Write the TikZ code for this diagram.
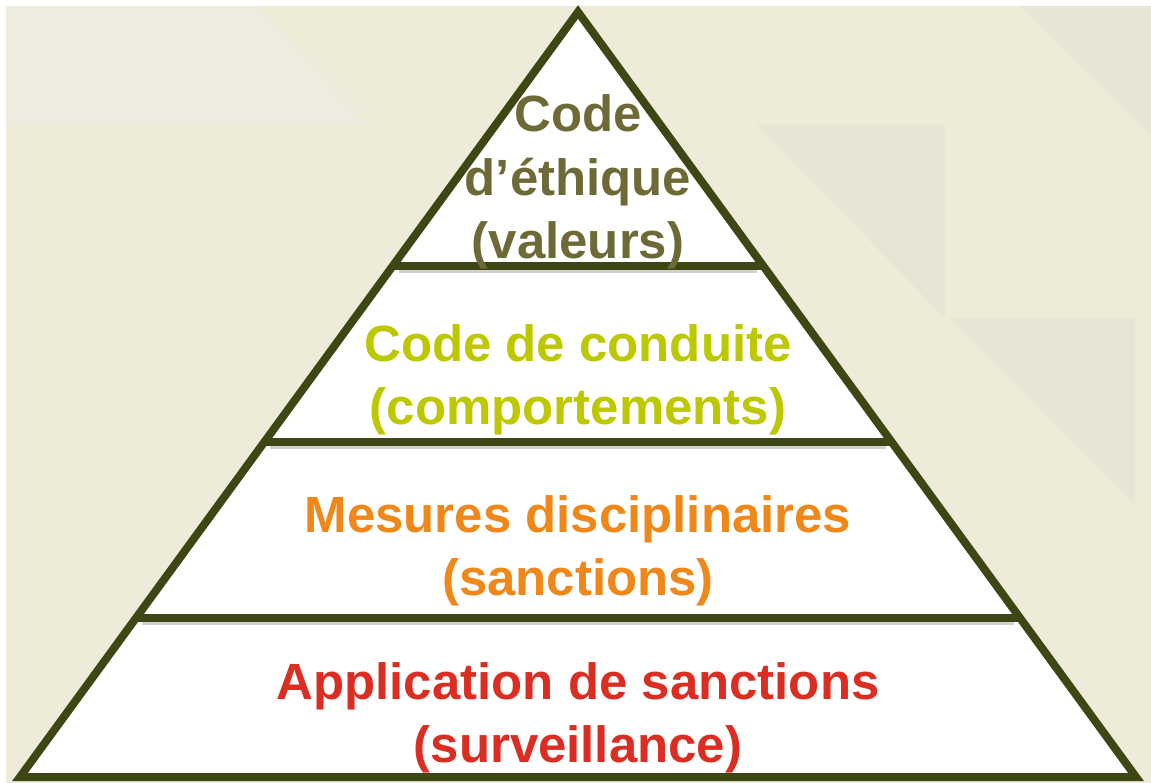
\documentclass[tikz,border=0pt]{standalone}
\usepackage{fontspec}
\setmainfont{Liberation Sans}
\usetikzlibrary{calc}
\definecolor{frame}{RGB}{62,70,20}
\definecolor{bgbeige}{RGB}{238,235,216}
\definecolor{bgshade}{RGB}{231,229,211}
\definecolor{bglight}{RGB}{238,236,222}
\definecolor{valcol}{RGB}{110,106,56}
\definecolor{condcol}{RGB}{190,200,0}
\definecolor{disccol}{RGB}{240,135,25}
\definecolor{survcol}{RGB}{220,45,35}
\tikzset{level text/.style={align=center,inner sep=0pt,font=\fontsize{29pt}{36.2pt}\selectfont\bfseries},
  pyramid line/.style={draw=frame,line width=4.55pt,line join=miter},
  level shadow/.style={draw=black!18,line width=2pt},}

\begin{document}
\begin{tikzpicture}[x=0.02cm,y=-0.02cm]
    % background
    \fill[white] (0,0) rectangle (1151,783);
    \useasboundingbox (0,0) rectangle (1151,783);
    \fill[bgbeige] (6,6) rectangle (1151,783);
    \fill[bglight] (6,6) -- (258,6) -- (370,125) -- (6,125) -- cycle;
    \fill[bgshade] (1020,6) -- (1151,6) -- (1151,135) -- cycle;
    \fill[bgshade] (757,125) -- (945,125) -- (945,318) -- cycle;
    \fill[bgshade] (950,318) -- (1135,318) -- (1135,505) -- cycle;

    % pyramid
    \coordinate (apex) at (578,12);
    \coordinate (bl) at (20,777);
    \coordinate (br) at (1136,777);
    \fill[white] (apex) -- (bl) -- (br) -- cycle;
    \foreach \t/\n in {0.332/1,0.562/2,0.792/3} {
      \coordinate (l\n) at ($(apex)!\t!(bl)$);
      \coordinate (r\n) at ($(apex)!\t!(br)$);
      \draw[level shadow] ($(l\n)+(6,5)$) -- ($(r\n)+(-6,5)$);
      \draw[pyramid line] (l\n) -- (r\n);
    }
    \draw[pyramid line] (apex) -- (bl) -- (br) -- cycle;

    \node[level text, text=valcol] (valeurs) at (578,182) {Code\\d’éthique\\(valeurs)};
    \node[level text, text=condcol] (conduite) at (578,380) {Code de conduite\\(comportements)};
    \node[level text, text=disccol] (mesures) at (578,551) {Mesures disciplinaires\\(sanctions)};
    \node[level text, text=survcol] (application) at (578,718) {Application de sanctions\\(surveillance)};
\end{tikzpicture}
\end{document}
